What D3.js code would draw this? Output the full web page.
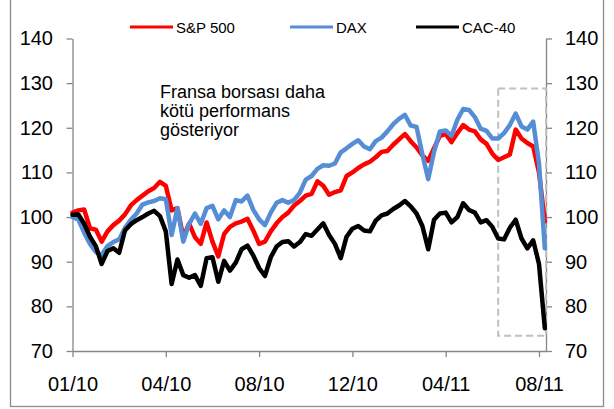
<!DOCTYPE html>
<html>
<head>
<meta charset="utf-8">
<script src="https://cdn.jsdelivr.net/npm/d3@7"></script>
<style>
    body { margin: 0; background: #fff; }
    svg { display: block; font-family: "Liberation Sans", Arial, sans-serif; }
</style>
</head>
<body>
<div id="chart"></div>
<script>
// DATA (weekly readings, index 100 = start of 2010) //
const spx = [
    101.0, 101.5, 101.7, 97.5, 97.2, 94.5, 96.8, 98.2, 99.2, 100.6,
    102.6, 103.8, 104.8, 105.8, 106.5, 107.9, 107.0, 101.5, 102.0, 95.5,
    98.5, 95.5, 94.0, 98.8, 94.5, 91.2, 96.2, 97.8, 98.6, 99.0,
    99.6, 97.0, 94.0, 94.5, 96.8, 98.6, 100.0, 101.0, 102.6, 103.6,
    104.8, 105.2, 108.0, 107.0, 105.0, 105.6, 106.0, 109.2, 110.0, 111.0,
    111.8, 112.4, 113.4, 114.6, 114.8, 116.2, 117.4, 118.6, 117.0, 115.6,
    113.8, 112.6, 115.4, 118.2, 118.6, 116.8, 118.8, 120.6, 119.6, 119.2,
    117.4, 116.4, 114.2, 112.8, 113.4, 114.0, 119.6, 117.6, 116.6, 115.8,
    110.0, 99.0
]

const dax = [
    100.0, 99.5, 96.5, 94.0, 92.2, 91.5, 93.5, 94.4, 95.0, 97.6,
    99.4, 100.8, 102.8, 103.3, 103.6, 104.2, 104.0, 96.0, 102.0, 94.5,
    98.5, 100.8, 98.5, 102.0, 102.5, 99.5, 101.5, 100.0, 103.8, 103.5,
    104.8, 101.6, 99.5, 98.2, 101.0, 103.2, 103.8, 103.2, 103.8, 105.5,
    108.4, 109.2, 110.8, 111.6, 111.5, 112.0, 114.5, 115.4, 116.4, 117.2,
    115.8, 115.2, 117.0, 117.8, 119.2, 120.8, 122.0, 122.9, 120.5, 120.2,
    114.0, 108.5, 114.6, 119.2, 119.4, 118.2, 121.8, 124.2, 124.0, 122.4,
    119.8, 119.3, 117.6, 117.6, 118.8, 120.6, 123.2, 120.3, 119.6, 121.4,
    112.0, 93.0
]

const cac = [
    100.5, 100.6, 98.5, 95.6, 93.5, 89.5, 92.4, 93.0, 92.0, 97.0,
    98.4, 99.3, 100.0, 100.8, 101.4, 100.2, 96.8, 85.0, 90.5, 87.0,
    86.4, 87.0, 84.6, 90.8, 91.0, 85.5, 90.2, 88.0, 89.8, 92.8,
    93.6, 91.4, 88.6, 86.8, 91.0, 93.4, 94.4, 94.6, 93.4, 94.4,
    96.2, 95.8, 97.2, 98.6, 96.0, 94.0, 90.8, 95.6, 97.4, 98.0,
    97.0, 96.8, 99.2, 100.4, 100.8, 101.8, 102.6, 103.6, 102.4, 100.8,
    98.0, 92.8, 99.4, 100.8, 101.0, 98.8, 100.0, 103.1, 101.6, 101.0,
    98.8, 99.3, 97.8, 95.2, 95.0, 97.6, 99.4, 95.2, 93.0, 94.8,
    89.5, 75.1
]

const seriesNames = ["S&P 500", "DAX", "CAC-40"]
const seriesColors = ["#ff0000", "#558ed5", "#000000"]

const xTickWeeks = [0, 16, 32, 48, 64, 80]
const xTickLabels = ["01/10", "04/10", "08/10", "12/10", "04/11", "08/11"]
const yTicks = [70, 80, 90, 100, 110, 120, 130, 140]

const noteLines = ["Fransa borsası daha", "kötü performans", "gösteriyor"]

// dashed box around the last weeks: [from week, to week, top value, bottom value]
const highlight = [73, 81.2, 128.8, 73.4]

// GLOBAL VARIABLES //
let dimensions = {
    width: 614,
    height: 409,
    margin: {
        top: 38.5,
        right: 68,
        bottom: 58,
        left: 72.5,
    },
}

dimensions.boundedWidth = dimensions.width
    - dimensions.margin.left
    - dimensions.margin.right

dimensions.boundedHeight = dimensions.height
    - dimensions.margin.top
    - dimensions.margin.bottom

const axisColor = "#868686"

// Create scales
const xScale = d3.scaleLinear()
    .domain([0, 81.2])
    .range([0, dimensions.boundedWidth])

const yScale = d3.scaleLinear()
    .domain([70, 140])
    .range([dimensions.boundedHeight, 0])

const xAxisGenerator = d3.axisBottom(xScale)
    .tickValues(xTickWeeks)
    .tickFormat((d, i) => xTickLabels[i])
    .tickSize(6)
    .tickSizeOuter(0)
    .tickPadding(20)

const yAxisLeft = d3.axisLeft(yScale)
    .tickValues(yTicks)
    .tickSize(6)
    .tickSizeOuter(0)
    .tickPadding(13.5)

const yAxisRight = d3.axisRight(yScale)
    .tickValues(yTicks)
    .tickSize(6)
    .tickSizeOuter(0)
    .tickPadding(13)

function styleAxis(g) {
    g.select(".domain").attr("stroke", axisColor).attr("stroke-width", 1.3)
    g.selectAll(".tick line").attr("stroke", axisColor).attr("stroke-width", 1.3)
    g.selectAll(".tick text")
        .attr("fill", "#000")
        .style("font-size", "20px")
        .style("font-family", "\"Liberation Sans\", Arial, sans-serif")
}

function drawChart() {
    const wrapper = d3.select("#chart")
        .append("svg")
        .attr("width", dimensions.width)
        .attr("height", dimensions.height)

    // outer frame
    wrapper.append("rect")
        .attr("x", 10.5)
        .attr("y", -2)
        .attr("width", 593)
        .attr("height", 408.5)
        .attr("fill", "none")
        .attr("stroke", "#8c8c8c")
        .attr("stroke-width", 1.3)

    const bounds = wrapper.append("g")
        .attr("transform", `translate(${dimensions.margin.left}, ${dimensions.margin.top})`)

    // axes
    bounds.append("g")
        .attr("transform", `translate(0, ${dimensions.boundedHeight})`)
        .call(xAxisGenerator)
        .call(styleAxis)

    bounds.append("g")
        .call(yAxisLeft)
        .call(styleAxis)

    bounds.append("g")
        .attr("transform", `translate(${dimensions.boundedWidth}, 0)`)
        .call(yAxisRight)
        .call(styleAxis)

    // dashed highlight box
    bounds.append("rect")
        .attr("x", xScale(highlight[0]))
        .attr("y", yScale(highlight[2]))
        .attr("width", xScale(highlight[1]) - xScale(highlight[0]))
        .attr("height", yScale(highlight[3]) - yScale(highlight[2]))
        .attr("fill", "none")
        .attr("stroke", "#bfbfbf")
        .attr("stroke-width", 2)
        .attr("stroke-dasharray", "7,4")

    // lines (S&P first, CAC on top)
    const lineGenerator = d3.line()
        .x((d, i) => xScale(i))
        .y(d => yScale(d))

    const allSeries = [spx, dax, cac]
    allSeries.forEach((values, k) => {
        bounds.append("path")
            .datum(values)
            .attr("d", lineGenerator)
            .attr("fill", "none")
            .attr("stroke", seriesColors[k])
            .attr("stroke-width", 4.5)
            .attr("stroke-linejoin", "round")
            .attr("stroke-linecap", "round")
    })

    // legend
    const legendX = [130, 290, 416]
    const legend = wrapper.append("g")
    seriesNames.forEach((name, k) => {
        legend.append("line")
            .attr("x1", legendX[k])
            .attr("x2", legendX[k] + 43)
            .attr("y1", 27)
            .attr("y2", 27)
            .attr("stroke", seriesColors[k])
            .attr("stroke-width", 3)
        legend.append("text")
            .attr("x", legendX[k] + 46)
            .attr("y", 32.5)
            .style("font-size", "15px")
            .attr("fill", "#000")
            .text(name)
    })

    // note
    wrapper.append("g")
        .selectAll("text")
        .data(noteLines)
        .join("text")
        .attr("x", 160)
        .attr("y", (d, i) => 97.5 + i * 19)
        .style("font-size", "18px")
        .attr("fill", "#000")
        .text(d => d)
}

drawChart()
</script>
</body>
</html>
